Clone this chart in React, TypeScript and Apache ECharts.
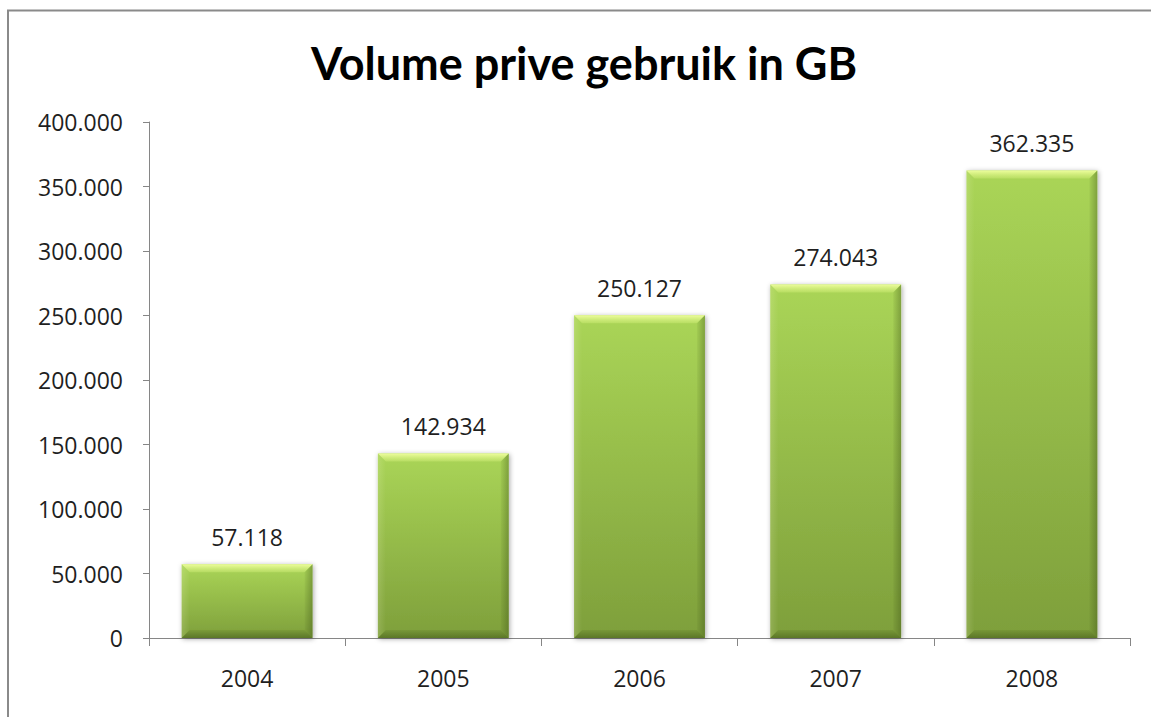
import React, { useEffect, useRef } from "react";
import * as echarts from "echarts";

const categories = ["2004", "2005", "2006", "2007", "2008"];
const volumes = [57118, 142934, 250127, 274043, 362335];
const yTicks = { min: 0, max: 400000, interval: 50000 };
const titleText = "Volume prive gebruik in GB";

const fmt = (v: number) => String(Math.round(v)).replace(/\B(?=(\d{3})+(?!\d))/g, ".");

export default function App() {
  const ref = useRef<HTMLDivElement>(null);
  useEffect(() => {
    if (!ref.current) return;
    const chart = echarts.init(ref.current, null, { renderer: "svg" });
    const labelFont = "'Open Sans', 'Noto Sans', sans-serif";
    chart.setOption({
      animation: false,
      backgroundColor: "#ffffff",
      graphic: [
        {
          type: "rect",
          shape: { x: 8, y: 10.5, width: 1300, height: 900 },
          style: { fill: "none", stroke: "#8a8a8a", lineWidth: 2 },
          silent: true,
        },
        {
          type: "text",
          x: 584,
          y: 63,
          style: {
            text: titleText,
            font: "bold 45px Lato, 'Open Sans', sans-serif",
            fill: "#000000",
            textAlign: "center",
            textVerticalAlign: "middle",
          },
          silent: true,
        },
      ],
      grid: { left: 149, top: 122, right: 21, bottom: 79 },
      xAxis: {
        type: "category",
        data: categories,
        axisLine: { lineStyle: { color: "#868686", width: 1 } },
        axisTick: { show: true, length: 8, alignWithLabel: false, lineStyle: { color: "#868686" } },
        axisLabel: { margin: 28, fontSize: 23, color: "#1f1f1f", fontFamily: labelFont },
      },
      yAxis: {
        type: "value",
        min: yTicks.min,
        max: yTicks.max,
        interval: yTicks.interval,
        splitLine: { show: false },
        axisLine: { show: true, lineStyle: { color: "#868686", width: 1 } },
        axisTick: { show: true, length: 6, lineStyle: { color: "#868686" } },
        axisLabel: {
          margin: 26,
          fontSize: 23,
          color: "#1f1f1f",
          fontFamily: labelFont,
          formatter: (v: number) => fmt(v),
        },
      },
      series: [
        {
          type: "bar",
          data: volumes,
          barWidth: "66.7%",
          itemStyle: {
            color: new echarts.graphic.LinearGradient(0, 0, 0, 1, [
              { offset: 0, color: "#aad557" },
              { offset: 1, color: "#7e9f3b" },
            ]),
            shadowColor: "rgba(0,0,0,0.35)",
            shadowBlur: 5,
            shadowOffsetX: 1,
            shadowOffsetY: 1,
          },
          label: {
            show: true,
            position: "top",
            distance: 16,
            fontSize: 23,
            color: "#1f1f1f",
            fontFamily: labelFont,
            formatter: (p: any) => fmt(p.value),
          },
        },
        {
          type: "custom",
          silent: true,
          z: 5,
          data: volumes.map((v, i) => [i, v]),
          encode: { x: 0, y: 1 },
          renderItem: (params: any, api: any) => {
            const idx = api.value(0);
            const val = api.value(1);
            const top = api.coord([idx, val]);
            const base = api.coord([idx, 0]);
            const catW = api.size([1, 0])[0];
            const w = catW * 0.667;
            const x0 = top[0] - w / 2;
            const x1 = x0 + w;
            const y0 = top[1];
            const y1 = base[1];
            const b = 8;
            return {
              type: "group",
              children: [
                {
                  type: "polygon",
                  shape: { points: [[x0, y0], [x1, y0], [x1 - b, y0 + b], [x0 + b, y0 + b]] },
                  style: {
                    fill: new echarts.graphic.LinearGradient(0, 0, 0, 1, [
                      { offset: 0, color: "rgba(240,255,160,0.95)" },
                      { offset: 1, color: "rgba(220,245,130,0.3)" },
                    ]),
                  },
                },
                {
                  type: "polygon",
                  shape: { points: [[x0, y0], [x0 + b, y0 + b], [x0 + b, y1 - b], [x0, y1]] },
                  style: {
                    fill: new echarts.graphic.LinearGradient(0, 0, 1, 0, [
                      { offset: 0, color: "rgba(255,255,220,0.15)" },
                      { offset: 1, color: "rgba(255,255,220,0.0)" },
                    ]),
                  },
                },
                {
                  type: "polygon",
                  shape: { points: [[x1, y0], [x1 - b, y0 + b], [x1 - b, y1 - b], [x1, y1]] },
                  style: {
                    fill: new echarts.graphic.LinearGradient(0, 0, 1, 0, [
                      { offset: 0, color: "rgba(50,70,15,0.05)" },
                      { offset: 1, color: "rgba(50,70,15,0.35)" },
                    ]),
                  },
                },
                {
                  type: "polygon",
                  shape: { points: [[x0, y1], [x1, y1], [x1 - b, y1 - b], [x0 + b, y1 - b]] },
                  style: {
                    fill: new echarts.graphic.LinearGradient(0, 0, 0, 1, [
                      { offset: 0, color: "rgba(50,70,15,0.1)" },
                      { offset: 1, color: "rgba(50,70,15,0.45)" },
                    ]),
                  },
                },
              ],
            };
          },
        },
      ],
    });
    return () => chart.dispose();
  }, []);
  return (
    <div
      ref={ref}
      style={{ position: "fixed", left: 0, top: 0, width: 1151, height: 717, background: "#fff" }}
    />
  );
}
